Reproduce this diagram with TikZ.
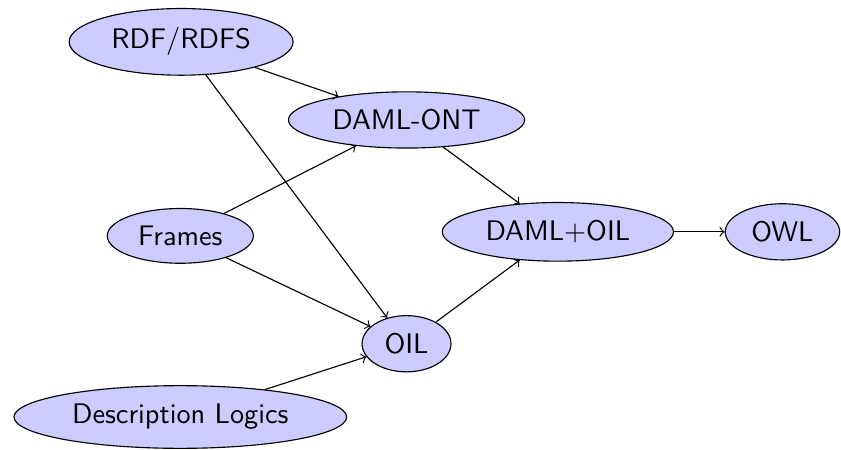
\documentclass[tikz,border=0pt]{standalone}
\usetikzlibrary{shapes.geometric}

\begin{document}
\begin{tikzpicture}[font=\sffamily, lang/.style={ellipse, draw, fill=blue!20}]
            \useasboundingbox (0, 0) rectangle (10.447, -5.589);
            \node[lang] (rdf) at (2.25, -0.52) {RDF/RDFS};
            \node[lang] (ont) at (5.05, -1.49) {DAML-ONT};
            \node[lang] (frames) at (2.24, -2.93) {Frames};
            \node[lang] (damloil) at (6.93, -2.88) {DAML+OIL};
            \node[lang] (owl) at (9.72, -2.88) {OWL};
            \node[lang] (oil) at (5.05, -4.27) {OIL};
            \node[lang] (dl) at (2.24, -5.18) {Description Logics};
            \draw[->] (rdf) -- (ont);
            \draw[->] (rdf) -- (oil);
            \draw[->] (frames) -- (ont);
            \draw[->] (frames) -- (oil);
            \draw[->] (dl) -- (oil);
            \draw[->] (ont) -- (damloil);
            \draw[->] (oil) -- (damloil);
            \draw[->] (damloil) -- (owl);
        \end{tikzpicture}
\end{document}
